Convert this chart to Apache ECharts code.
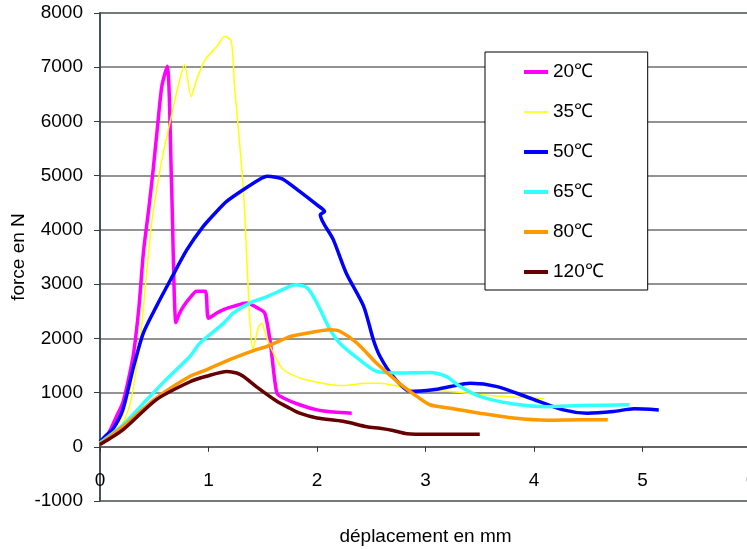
<!DOCTYPE html>
<html>
<head>
<meta charset="utf-8">
<script src="https://cdn.jsdelivr.net/npm/echarts@6/dist/echarts.min.js"></script>
<style>
  html, body { margin: 0; padding: 0; background: #fff; }
  #chart { width: 747px; height: 549px; }
</style>
</head>
<body>
<div id="chart"></div>
<script>
// données : [déplacement mm, force N]
const t20 = [[0,60],[0.05,150],[0.1,330],[0.15,550],[0.21,810],[0.26,1220],[0.31,1730],[0.36,2600],[0.40,3580],[0.45,4400],[0.49,5110],[0.53,5900],[0.57,6650],[0.62,7020],[0.66,4800],[0.70,2290],[0.73,2450],[0.77,2590],[0.83,2750],[0.89,2870],[0.97,2870],[1.0,2370],[1.08,2470],[1.15,2540],[1.23,2590],[1.35,2650],[1.47,2540],[1.52,2460],[1.57,1920],[1.63,990],[1.69,900],[1.84,775],[2.0,680],[2.15,640],[2.32,620]];
const t35 = [[0,50],[0.1,150],[0.18,310],[0.28,810],[0.37,1970],[0.42,3000],[0.48,4190],[0.57,5290],[0.65,6030],[0.72,6650],[0.78,7050],[0.84,6460],[0.89,6770],[0.97,7140],[1.08,7390],[1.15,7570],[1.21,7480],[1.24,6650],[1.32,4800],[1.41,1800],[1.46,2200],[1.49,2280],[1.53,2050],[1.57,1850],[1.63,1600],[1.69,1420],[1.84,1270],[2.0,1190],[2.15,1140],[2.24,1130],[2.46,1170],[2.58,1170],[2.76,1110],[2.89,1050],[3.23,1020],[3.5,960],[3.8,920],[4.09,885]];
const t50 = [[0,90],[0.05,200],[0.12,330],[0.21,680],[0.31,1480],[0.40,2100],[0.52,2590],[0.65,3080],[0.80,3630],[0.95,4060],[1.08,4350],[1.17,4530],[1.32,4740],[1.47,4930],[1.54,4990],[1.62,4970],[1.69,4930],[1.84,4710],[2.0,4460],[2.07,4340],[2.03,4280],[2.15,3820],[2.27,3200],[2.43,2590],[2.52,1970],[2.58,1670],[2.70,1300],[2.86,1020],[3.07,1050],[3.23,1110],[3.41,1170],[3.66,1110],[3.96,900],[4.27,680],[4.49,620],[4.73,650],[4.92,700],[5.15,680]];
const t65 = [[0,70],[0.21,400],[0.40,800],[0.60,1220],[0.83,1670],[0.92,1910],[1.14,2280],[1.23,2470],[1.38,2650],[1.54,2770],[1.75,2960],[1.81,2990],[1.91,2930],[2.0,2650],[2.12,2160],[2.21,1910],[2.37,1640],[2.55,1390],[2.76,1360],[3.04,1370],[3.19,1300],[3.32,1110],[3.50,930],[3.81,790],[4.12,740],[4.42,760],[4.88,775]];
const t80 = [[0,50],[0.21,370],[0.52,900],[0.83,1300],[0.98,1420],[1.20,1610],[1.44,1790],[1.54,1850],[1.75,2030],[1.84,2070],[2.12,2160],[2.21,2130],[2.37,1910],[2.55,1540],[2.76,1170],[2.92,930],[3.04,775],[3.23,710],[3.50,620],[3.81,530],[4.12,490],[4.42,500],[4.68,500]];
const t120 = [[0,40],[0.21,310],[0.52,870],[0.83,1200],[0.98,1300],[1.17,1390],[1.26,1360],[1.32,1300],[1.44,1110],[1.63,840],[1.75,710],[1.84,620],[2.0,530],[2.24,470],[2.46,370],[2.58,340],[2.70,300],[2.83,240],[3.04,230],[3.50,230]];

const names = ['20℃', '35℃', '50℃', '65℃', '80℃', '120℃'];
const colors = ['#ff00ff', '#ffff00', '#0000ff', '#33ffff', '#ff9900', '#660000'];
const widths = [3.5, 1.5, 3.5, 3.5, 3.5, 3.5];
const curves = [t20, t35, t50, t65, t80, t120];

const font = 'Liberation Sans, Arial, sans-serif';
const thickIcon = 'path://M0,0H24V4H0Z';
const thinIcon = 'path://M0,0H24V1.5H0Z';

// l'axe des x passe par y = 0 : on le remonte depuis le bas de la grille
const gridTop = 13, gridBottom = 48, yMin = -1000, yMax = 8000;
const plotH = 549 - gridTop - gridBottom;
const zeroOffset = -plotH * (0 - yMin) / (yMax - yMin);

const chart = echarts.init(document.getElementById('chart'));

chart.setOption({
  animation: false,
  textStyle: { fontFamily: font },
  grid: {
    left: 100, top: gridTop, right: -4, bottom: gridBottom,
    outerBoundsMode: 'none',
    show: true, borderColor: '#7f999f', borderWidth: 2, backgroundColor: 'transparent'
  },
  legend: {
    orient: 'vertical',
    left: 485, top: 52,
    padding: [10, 44, 8, 39],
    itemGap: 20,
    itemWidth: 24, itemHeight: 14,
    symbolKeepAspect: true,
    backgroundColor: '#fff',
    borderColor: '#000', borderWidth: 1,
    textStyle: { fontSize: 19, color: '#000', lineHeight: 20, fontFamily: font },
    data: names.map((n, i) => ({
      name: n,
      icon: widths[i] > 2 ? thickIcon : thinIcon,
      itemStyle: { color: colors[i] }
    }))
  },
  xAxis: {
    type: 'value',
    min: 0, max: 6, interval: 1,
    position: 'bottom',
    offset: zeroOffset,
    name: 'déplacement en mm',
    nameLocation: 'middle',
    nameGap: 80,
    nameMoveOverlap: false,
    nameTextStyle: { fontSize: 19, color: '#000', fontFamily: font },
    axisLine: { onZero: false, lineStyle: { color: '#555', width: 1.5 } },
    axisTick: { show: true, length: 5, lineStyle: { color: '#333' } },
    axisLabel: { fontSize: 19, color: '#000', margin: 24, fontFamily: font, formatter: v => String(v) },
    splitLine: { show: false }
  },
  yAxis: {
    type: 'value',
    min: yMin, max: yMax, interval: 1000,
    name: 'force en N',
    nameLocation: 'middle',
    nameGap: 72,
    nameMoveOverlap: false,
    nameTextStyle: { fontSize: 19, color: '#000', fontFamily: font },
    axisLine: { show: true, lineStyle: { color: '#2f3f3f', width: 1.5 } },
    axisTick: { show: true, length: 6, lineStyle: { color: '#2f3f3f' } },
    axisLabel: { fontSize: 19, color: '#000', margin: 17, fontFamily: font, formatter: v => String(v) },
    splitLine: { show: true, lineStyle: { color: '#6f6f6f', width: 1.5 } }
  },
  series: curves.map((d, i) => ({
    name: names[i],
    type: 'line',
    data: d,
    symbol: 'none',
    smooth: 0.25,
    color: colors[i],
    lineStyle: { color: colors[i], width: widths[i] }
  }))
});
</script>
</body>
</html>
